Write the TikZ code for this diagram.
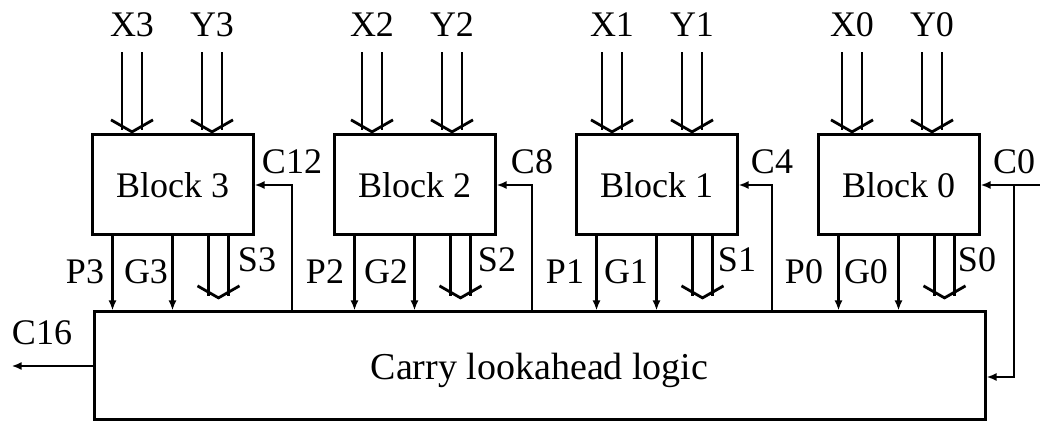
\documentclass[tikz,border=0pt]{standalone}
\usepackage{fontspec}
\setmainfont{Liberation Serif}
\usetikzlibrary{arrows.meta,positioning}

\begin{document}
\begin{tikzpicture}[
    x=0.5pt, y=-0.5pt,
    font=\fontsize{18}{20}\selectfont,
    node distance=39pt,
    block/.style={draw, line width=1.5pt, minimum width=80.5pt, minimum height=50pt, inner sep=0pt},
    lbl/.style={inner sep=0pt},
    inlbl/.style={inner xsep=0pt, inner ysep=7.4pt},
    sig/.style={-{Latex[length=5pt, width=4pt]}, line width=1.4pt},
    bus/.style={double, double distance=8.6pt, line width=1.4pt, -{Straight Barb[length=6pt, width=21pt, line width=1.4pt]}}
]
\useasboundingbox (0,0) rectangle (1040,422);

\node[block] (blk3) at (172.5,185) {Block 3};
\node[block, right=of blk3] (blk2) {Block 2};
\node[block, right=of blk2] (blk1) {Block 1};
\node[block, right=of blk1] (blk0) {Block 0};
\node[block, minimum width=445.5pt, minimum height=54pt, text depth=0pt, font=\fontsize{19}{21}\selectfont] (cla) at (539.5,366) {Carry lookahead logic};

% operand inputs
\node[inlbl] (x3) at (132,25) {X3};
\node[inlbl] (y3) at (212,25) {Y3};
\node[inlbl] (x2) at (372,25) {X2};
\node[inlbl] (y2) at (452,25) {Y2};
\node[inlbl] (x1) at (612,25) {X1};
\node[inlbl] (y1) at (692,25) {Y1};
\node[inlbl] (x0) at (852,25) {X0};
\node[inlbl] (y0) at (932,25) {Y0};

\draw[bus] (x3) -- (x3 |- blk3.north);
\draw[bus] (y3) -- (y3 |- blk3.north);
\draw[bus] (x2) -- (x2 |- blk2.north);
\draw[bus] (y2) -- (y2 |- blk2.north);
\draw[bus] (x1) -- (x1 |- blk1.north);
\draw[bus] (y1) -- (y1 |- blk1.north);
\draw[bus] (x0) -- (x0 |- blk0.north);
\draw[bus] (y0) -- (y0 |- blk0.north);

% block outputs
\node[lbl] (p3) at (85,272) {P3};
\node[lbl] (g3) at (146,272) {G3};
\node[lbl] (s3) at (257,260) {S3};
\node[lbl] (p2) at (325,272) {P2};
\node[lbl] (g2) at (386,272) {G2};
\node[lbl] (s2) at (497,260) {S2};
\node[lbl] (p1) at (565,272) {P1};
\node[lbl] (g1) at (626,272) {G1};
\node[lbl] (s1) at (737,260) {S1};
\node[lbl] (p0) at (804,272) {P0};
\node[lbl] (g0) at (866,272) {G0};
\node[lbl] (s0) at (977,260) {S0};

\draw[sig] ([xshift=-30pt]blk3.south) -- ([xshift=-30pt]blk3.south |- cla.north);
\draw[sig] (blk3.south) -- (blk3.south |- cla.north);
\draw[bus] ([xshift=23pt]blk3.south) -- ++(0,63);
\draw[sig] ([xshift=-30pt]blk2.south) -- ([xshift=-30pt]blk2.south |- cla.north);
\draw[sig] (blk2.south) -- (blk2.south |- cla.north);
\draw[bus] ([xshift=23pt]blk2.south) -- ++(0,63);
\draw[sig] ([xshift=-30pt]blk1.south) -- ([xshift=-30pt]blk1.south |- cla.north);
\draw[sig] (blk1.south) -- (blk1.south |- cla.north);
\draw[bus] ([xshift=23pt]blk1.south) -- ++(0,63);
\draw[sig] ([xshift=-30pt]blk0.south) -- ([xshift=-30pt]blk0.south |- cla.north);
\draw[sig] (blk0.south) -- (blk0.south |- cla.north);
\draw[bus] ([xshift=23pt]blk0.south) -- ++(0,63);

% carries
\node[lbl] (c12) at (292,162) {C12};
\node[lbl] (c8) at (532,162) {C8};
\node[lbl] (c4) at (772,162) {C4};
\node[lbl] (c0) at (1014,162) {C0};
\node[lbl] (c16) at (42,333) {C16};
\coordinate (c0in) at (1040,185);

\draw[sig] (cla.north -| c12) |- (blk3.east);
\draw[sig] (cla.north -| c8) |- (blk2.east);
\draw[sig] (cla.north -| c4) |- (blk1.east);
\draw[sig] (c0in) -- (blk0.east);
\draw[sig] (c0 |- blk0.east) |- ([yshift=-5.5pt]cla.east);
\draw[sig] (cla.west) -- (cla.west -| c16.west);
\end{tikzpicture}
\end{document}
